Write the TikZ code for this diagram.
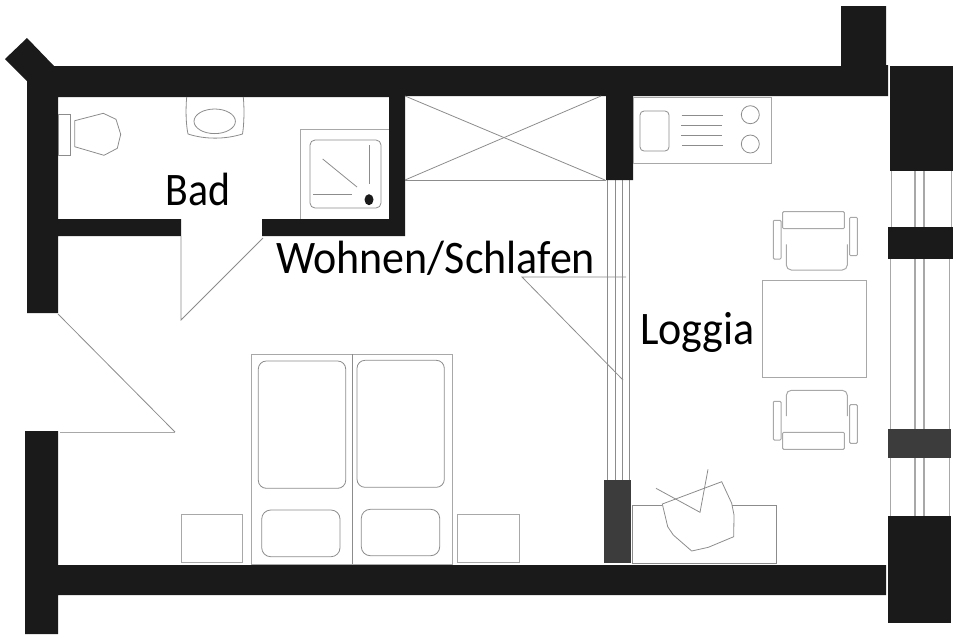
\documentclass[tikz,border=0pt]{standalone}
\usepackage{fontspec}
\setmainfont{Carlito}
\usepackage{tikz}
\usetikzlibrary{positioning,calc}

\definecolor{wallblack}{HTML}{1A1A1A}
\definecolor{walldark}{HTML}{3C3C3C}
\definecolor{plangray}{HTML}{8C8C8C}
\definecolor{framegray}{HTML}{A8A8A8}

\tikzset{
	wall/.style={fill=wallblack,draw=none},
	pillar/.style={fill=walldark,draw=none},
	fixture/.style={draw=plangray,line width=0.8pt,fill=none},
	frame/.style={draw=framegray,line width=1pt,fill=none},
	glass/.style={draw=framegray,line width=1.5pt},
	roomlabel/.style={anchor=base west,inner sep=0pt,text=black,font=\fontsize{44}{44}\selectfont,yscale=1.06,transform shape}
}

\begin{document}
\begin{tikzpicture}[x=1pt,y=-1pt]
	\useasboundingbox (0,0) rectangle (960,638);

	\draw[frame] (891,171)--(891,227);
	\draw[frame] (951,171)--(951,227);
	\draw[glass] (915,171)--(915,516);
	\draw[glass] (924,171)--(924,516);
	\draw[frame] (890,259)--(890,516);
	\draw[frame] (949.5,259)--(949.5,516);

	\draw[fixture] (607.7,180)--(607.7,480);
	\draw[fixture] (615,180)--(615,480);
	\draw[fixture] (622,180)--(622,480);
	\draw[fixture] (629,180)--(629,480);

	\fill[wall] (5,59)--(27,38)--(54,66)--(841,66)--(841,6)--(886,6)--(886,65)--(888,65)--(888,96)
		--(633,96)--(633,180)--(606,180)--(606,96)--(405,96)--(405,236)--(262,236)--(262,219)
		--(389,219)--(389,97)--(58,97)--(58,219)--(181,219)--(181,236)--(58,236)--(58,313)
		--(27,313)--(27,81)--cycle;
	\fill[wall] (25,431)--(58,431)--(58,565)--(886,565)--(886,595)--(58,595)--(58,634)--(25,634)--cycle;
	\fill[wall] (889.5,66) rectangle (953,171);
	\fill[wall] (888,227) rectangle (953,259);
	\fill[pillar] (888,429) rectangle (951,458);
	\fill[wall] (888,516) rectangle (951,623);
	\fill[pillar] (604,480) rectangle (631,563);

	\draw[fixture] (181,236)--(181,320)--(263,238);
	\draw[fixture] (58,314)--(175,432);
	\draw[frame] (175,432)--(60,432);
	\draw[fixture] (626,277)--(522,277)--(623,380);

	\draw[fixture] (405,180)--(606,180);
	\draw[fixture] (405,96)--(605,180);
	\draw[fixture] (405,180)--(601,96);

	\draw[fixture] (58,114) rectangle (70.7,155);
	\draw[fixture] (74.7,120.7)--(103.3,113.3)--(116,119.3)--(120.7,134.3)--(117.3,148.3)--(104,155.3)--(74.7,146.7)--cycle;

	\draw[fixture] (186.7,97) .. controls (185.5,110) and (186,125) .. (188,134)
		.. controls (205,139.5) and (225,139.5) .. (242.5,134)
		.. controls (244,125) and (244.5,110) .. (243.3,97);
	\draw[fixture] (214.7,121.3) ellipse (20.7 and 12.3);

	\draw[frame] (389,129)--(300,129)--(300,219);
	\draw[fixture,rounded corners=5pt] (310,140) rectangle (381,208);
	\draw[fixture] (369,145)--(369,184);
	\draw[fixture] (322.7,159)--(357,187);
	\draw[fixture] (313,194)--(352,194);
	\fill[wallblack] (369,199.7) ellipse (4.5 and 5.5);

	\draw[frame] (633,97) rectangle (771,163);
	\draw[fixture,rounded corners=4pt] (640,111) rectangle (669,151);
	\draw[fixture] (681.5,115)--(722.5,115);
	\draw[fixture] (681,125.5)--(722,125.5);
	\draw[fixture] (681,135.5)--(722,135.5);
	\draw[fixture] (682,145)--(723,145);
	\draw[fixture] (750.3,114.7) circle (9);
	\draw[fixture] (750.3,144) circle (9);

	\draw[frame,rounded corners=1pt] (782.7,211.7) rectangle (844.3,228.7);
	\draw[frame,rounded corners=1pt] (773.3,220.3) rectangle (781,259);
	\draw[frame,rounded corners=1pt] (849.7,217.3) rectangle (857.3,255.7);
	\draw[frame,rounded corners=5pt] (786.3,244.3)--(786.3,270)--(847.3,270)--(847.3,244.3);

	\draw[frame] (762.7,280) rectangle (866,377.7);

	\draw[frame,rounded corners=5pt] (786.3,416)--(786.3,390.3)--(847.3,390.3)--(847.3,416);
	\draw[frame,rounded corners=1pt] (773.3,401.3) rectangle (781,440);
	\draw[frame,rounded corners=1pt] (849.7,404.7) rectangle (857.3,443.3);
	\draw[frame,rounded corners=1pt] (782.7,432.3) rectangle (844.3,449.3);

	\draw[fixture] (662,505)--(632,505)--(632,563)--(776.7,563)--(776.7,505)--(731.7,505);
	\draw[fixture] (662.3,504)--(721.7,481.7)--(731.7,503.3)--(734,515)--(733.7,536.7)--(708.3,547.3)--(691.7,551)--(673.3,535)--(667.7,526.7)--cycle;
	\draw[fixture] (656,488.3)--(700,512.3)--(708,469.3);

	\draw[frame] (251.7,354.3) rectangle (452.7,564);
	\draw[fixture] (352.3,354.3)--(352.3,564);
	\draw[fixture,rounded corners=8pt] (258.3,361) rectangle (345.7,488.3);
	\draw[fixture,rounded corners=8pt] (357,360.3) rectangle (444.3,487.3);
	\draw[fixture,rounded corners=9pt] (261.7,510) rectangle (340,556.7);
	\draw[fixture,rounded corners=9pt] (361.3,509.3) rectangle (439.7,555.7);
	\draw[frame] (181.3,514.3) rectangle (242.7,562.3);
	\draw[frame] (457.7,514.3) rectangle (519.7,562.3);

	\node[roomlabel,xscale=0.95] (bad) at (165.5,205.5) {Bad};
	\node[roomlabel] (wohnen) at (276,273.5) {Wohnen/Schlafen};
	\node[roomlabel] (loggia) at (640,344) {Loggia};
\end{tikzpicture}
\end{document}
